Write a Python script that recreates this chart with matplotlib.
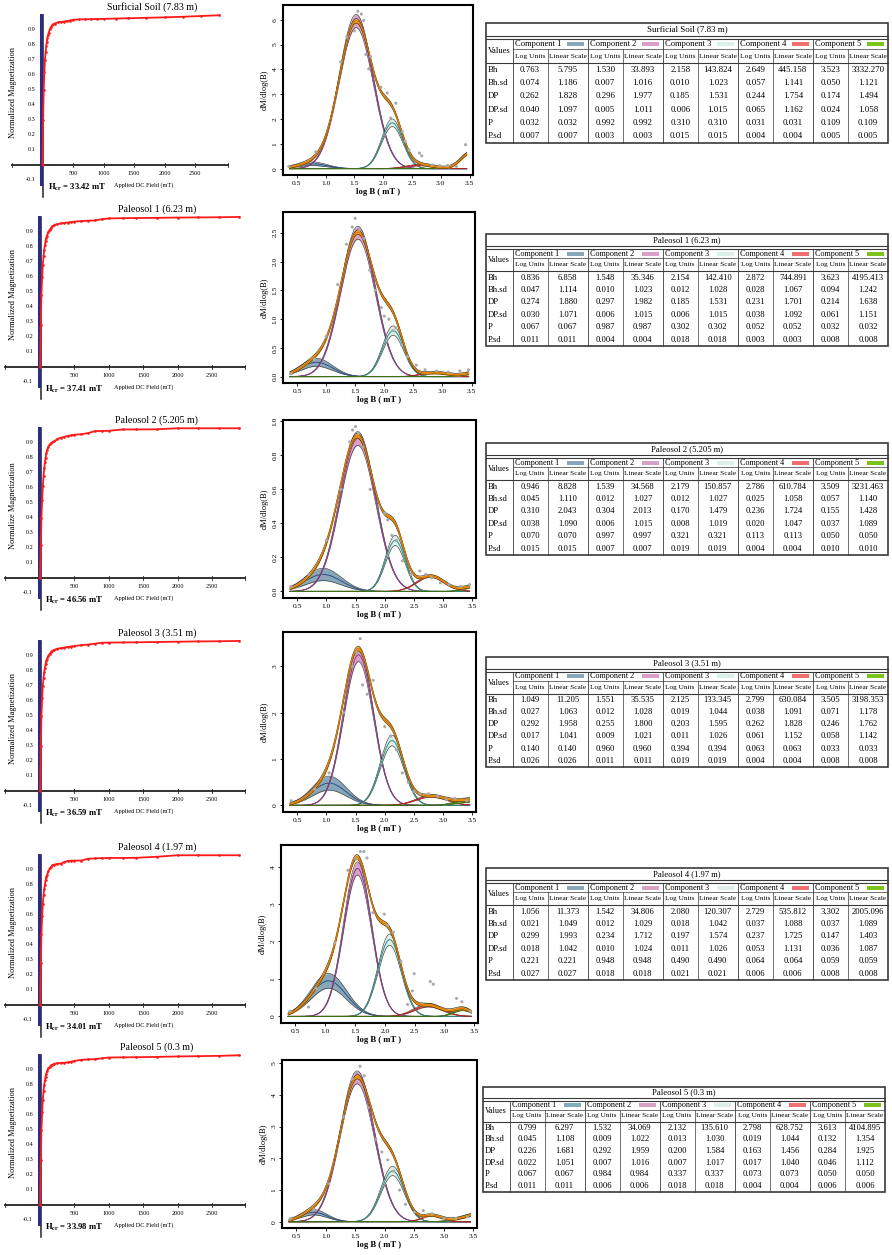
import numpy as np
import matplotlib.pyplot as plt
from matplotlib.patches import Rectangle
from matplotlib.ticker import MultipleLocator, FormatStrFormatter

plt.rcParams['font.family'] = ['Liberation Serif', 'DejaVu Serif']
plt.rcParams['mathtext.fontset'] = 'stix'

W, H = 892, 1255

SAMPLES = ["Surficial Soil (7.83 m)", "Paleosol 1 (6.23 m)", "Paleosol 2 (5.205 m)",
           "Paleosol 3 (3.51 m)", "Paleosol 4 (1.97 m)", "Paleosol 5 (0.3 m)"]
HCR = ["33.42", "37.41", "46.56", "36.59", "34.01", "33.98"]
IRM_YLABEL = ["Normalized Magnetization", "Normalized Magnetization", "Normalize Magnetization",
              "Normalized Magnetization", "Normalized Magnetization", "Normalized Magnetization"]

# IRM acquisition curves (applied field in mT, normalized magnetization)
FIELD = [0, 10, 20, 30, 40, 50, 60, 70, 80, 90, 100, 120, 140, 160, 180, 200, 250, 300, 350,
         400, 450, 500, 600, 700, 800, 900, 1000, 1200, 1400, 1700, 2000, 2300, 2600, 2900]
IRM_SOIL = [0.0, 0.30, 0.50, 0.62, 0.70, 0.75, 0.79, 0.82, 0.845, 0.865, 0.88, 0.905, 0.92, 0.93,
            0.937, 0.943, 0.950, 0.953, 0.956, 0.959, 0.963, 0.968, 0.970, 0.971, 0.972, 0.973,
            0.974, 0.976, 0.978, 0.981, 0.984, 0.988, 0.993, 0.998]
IRM_P1 = [0.0, 0.28, 0.48, 0.60, 0.68, 0.74, 0.78, 0.81, 0.84, 0.86, 0.875, 0.90, 0.915, 0.927,
          0.937, 0.944, 0.952, 0.957, 0.960, 0.963, 0.966, 0.969, 0.972, 0.975, 0.977, 0.985,
          0.990, 0.992, 0.993, 0.994, 0.996, 0.997, 0.998, 1.0]
IRM_P2 = [0.0, 0.22, 0.40, 0.52, 0.61, 0.68, 0.73, 0.77, 0.80, 0.83, 0.85, 0.875, 0.89, 0.898,
          0.904, 0.91, 0.925, 0.935, 0.94, 0.947, 0.95, 0.955, 0.958, 0.966, 0.979, 0.980,
          0.981, 0.990, 0.990, 0.991, 0.998, 0.998, 0.998, 0.998]
IRM_P3 = [0.0, 0.30, 0.50, 0.62, 0.70, 0.75, 0.79, 0.82, 0.845, 0.865, 0.88, 0.90, 0.915, 0.925,
          0.935, 0.94, 0.948, 0.952, 0.956, 0.96, 0.963, 0.966, 0.972, 0.976, 0.982, 0.988,
          0.989, 0.990, 0.991, 0.993, 0.995, 0.997, 0.998, 1.0]
IRM_P4 = [0.0, 0.28, 0.47, 0.59, 0.67, 0.73, 0.77, 0.80, 0.83, 0.85, 0.865, 0.89, 0.91, 0.92,
          0.93, 0.935, 0.94, 0.942, 0.952, 0.96, 0.962, 0.962, 0.963, 0.975, 0.977, 0.979,
          0.980, 0.980, 0.981, 0.988, 0.998, 0.998, 0.998, 0.998]
IRM_P5 = [0.0, 0.30, 0.50, 0.62, 0.70, 0.76, 0.80, 0.83, 0.855, 0.875, 0.89, 0.91, 0.92, 0.93,
          0.935, 0.94, 0.945, 0.947, 0.948, 0.950, 0.955, 0.960, 0.968, 0.970, 0.972, 0.978,
          0.983, 0.984, 0.985, 0.987, 0.990, 0.992, 0.994, 0.998]
IRM = [IRM_SOIL, IRM_P1, IRM_P2, IRM_P3, IRM_P4, IRM_P5]

# measured gradient points (log B, dM/dlog(B))
LOGB_SOIL = [0.36, 0.83, 1.26, 1.37, 1.50, 1.56, 1.62, 1.66, 1.70, 1.75, 1.78, 1.96, 2.07, 2.13,
             2.22, 2.33, 2.38, 2.45, 2.63, 2.67, 2.85, 2.98, 3.12, 3.27, 3.43]
DMDB_SOIL = [0.09, 0.68, 4.30, 5.30, 5.55, 6.34, 6.23, 5.97, 4.60, 4.02, 4.52, 3.28, 3.05, 2.04,
             2.64, 1.50, 1.10, 0.75, 0.63, 0.52, 0.15, 0.12, 0.13, 0.09, 0.97]
LOGB_P1 = [0.40, 0.80, 1.00, 1.20, 1.35, 1.45, 1.50, 1.58, 1.65, 1.75, 1.85, 1.95, 2.00, 2.08,
           2.15, 2.20, 2.30, 2.40, 2.55, 2.70, 2.90, 3.10, 3.30, 3.45]
DMDB_P1 = [0.05, 0.30, 0.70, 1.60, 2.30, 2.60, 2.75, 2.55, 2.40, 1.85, 1.50, 1.20, 1.05, 1.00,
           0.80, 0.85, 0.55, 0.35, 0.20, 0.12, 0.10, 0.08, 0.10, 0.12]
LOGB_P2 = [0.40, 0.70, 1.00, 1.25, 1.40, 1.45, 1.50, 1.55, 1.62, 1.75, 1.90, 2.00, 2.05, 2.12,
           2.20, 2.30, 2.45, 2.60, 2.70, 2.80, 2.95, 3.10, 3.30, 3.45]
DMDB_P2 = [0.03, 0.10, 0.30, 0.60, 0.88, 0.95, 0.97, 0.93, 0.85, 0.60, 0.50, 0.46, 0.42, 0.33,
           0.30, 0.18, 0.10, 0.12, 0.10, 0.08, 0.05, 0.04, 0.03, 0.04]
LOGB_P3 = [0.40, 0.80, 1.05, 1.30, 1.45, 1.52, 1.58, 1.62, 1.70, 1.80, 2.00, 2.10, 2.20, 2.30,
           2.40, 2.50, 2.60, 2.75, 2.90, 3.05, 3.20, 3.40]
DMDB_P3 = [0.10, 0.35, 0.70, 2.00, 3.00, 3.30, 3.60, 2.60, 2.40, 2.70, 1.70, 1.50, 1.20, 0.70,
           0.50, 0.30, 0.25, 0.25, 0.20, 0.12, 0.15, 0.10]
LOGB_P4 = [0.41, 0.72, 0.85, 1.16, 1.38, 1.52, 1.59, 1.65, 1.70, 1.80, 1.99, 2.05, 2.14, 2.27,
           2.38, 2.46, 2.49, 2.76, 2.81, 3.20, 3.29, 3.43]
DMDB_P4 = [0.14, 0.25, 0.75, 1.96, 3.90, 4.20, 4.40, 4.40, 4.23, 2.77, 2.73, 2.43, 2.25, 1.47,
           0.32, 0.68, 1.14, 0.93, 0.86, 0.48, 0.39, 0.14]
LOGB_P5 = [0.40, 0.80, 1.05, 1.30, 1.45, 1.52, 1.58, 1.65, 1.72, 1.85, 1.95, 2.05, 2.15, 2.25,
           2.35, 2.50, 2.65, 2.80, 3.00, 3.20, 3.40]
DMDB_P5 = [0.10, 0.40, 1.20, 3.30, 4.50, 4.70, 4.90, 4.60, 3.60, 2.60, 2.20, 1.95, 1.60, 1.00,
           0.55, 0.30, 0.35, 0.25, 0.10, 0.10, 0.15]
LOGB = [LOGB_SOIL, LOGB_P1, LOGB_P2, LOGB_P3, LOGB_P4, LOGB_P5]
DMDB = [DMDB_SOIL, DMDB_P1, DMDB_P2, DMDB_P3, DMDB_P4, DMDB_P5]

# component peak heights (components 1..5)
PEAK_SOIL = [0.20, 5.95, 1.85, 0.15, 0.65]
PEAK_P1 = [0.25, 2.50, 0.80, 0.07, 0.08]
PEAK_P2 = [0.10, 0.90, 0.30, 0.09, 0.03]
PEAK_P3 = [0.48, 3.25, 1.40, 0.20, 0.12]
PEAK_P4 = [0.95, 3.95, 2.05, 0.30, 0.20]
PEAK_P5 = [0.30, 4.55, 1.60, 0.20, 0.25]
PEAKS = [PEAK_SOIL, PEAK_P1, PEAK_P2, PEAK_P3, PEAK_P4, PEAK_P5]

# unmixing tables: rows Bh, Bh.sd, DP, DP.sd, P, P.sd ; columns (log, linear) x 5 components
ROW_NAMES = ["Bh", "Bh.sd", "DP", "DP.sd", "P", "P.sd"]
TAB_SOIL = [
    [0.763, 5.795, 1.530, 33.893, 2.158, 143.824, 2.649, 445.158, 3.523, 3332.270],
    [0.074, 1.186, 0.007, 1.016, 0.010, 1.023, 0.057, 1.141, 0.050, 1.121],
    [0.262, 1.828, 0.296, 1.977, 0.185, 1.531, 0.244, 1.754, 0.174, 1.494],
    [0.040, 1.097, 0.005, 1.011, 0.006, 1.015, 0.065, 1.162, 0.024, 1.058],
    [0.032, 0.032, 0.992, 0.992, 0.310, 0.310, 0.031, 0.031, 0.109, 0.109],
    [0.007, 0.007, 0.003, 0.003, 0.015, 0.015, 0.004, 0.004, 0.005, 0.005]]
TAB_P1 = [
    [0.836, 6.858, 1.548, 35.346, 2.154, 142.410, 2.872, 744.891, 3.623, 4195.413],
    [0.047, 1.114, 0.010, 1.023, 0.012, 1.028, 0.028, 1.067, 0.094, 1.242],
    [0.274, 1.880, 0.297, 1.982, 0.185, 1.531, 0.231, 1.701, 0.214, 1.638],
    [0.030, 1.071, 0.006, 1.015, 0.006, 1.015, 0.038, 1.092, 0.061, 1.151],
    [0.067, 0.067, 0.987, 0.987, 0.302, 0.302, 0.052, 0.052, 0.032, 0.032],
    [0.011, 0.011, 0.004, 0.004, 0.018, 0.018, 0.003, 0.003, 0.008, 0.008]]
TAB_P2 = [
    [0.946, 8.828, 1.539, 34.568, 2.179, 150.857, 2.786, 610.784, 3.509, 3231.463],
    [0.045, 1.110, 0.012, 1.027, 0.012, 1.027, 0.025, 1.058, 0.057, 1.140],
    [0.310, 2.043, 0.304, 2.013, 0.170, 1.479, 0.236, 1.724, 0.155, 1.428],
    [0.038, 1.090, 0.006, 1.015, 0.008, 1.019, 0.020, 1.047, 0.037, 1.089],
    [0.070, 0.070, 0.997, 0.997, 0.321, 0.321, 0.113, 0.113, 0.050, 0.050],
    [0.015, 0.015, 0.007, 0.007, 0.019, 0.019, 0.004, 0.004, 0.010, 0.010]]
TAB_P3 = [
    [1.049, 11.205, 1.551, 35.535, 2.125, 133.345, 2.799, 630.084, 3.505, 3198.353],
    [0.027, 1.063, 0.012, 1.028, 0.019, 1.044, 0.038, 1.091, 0.071, 1.178],
    [0.292, 1.958, 0.255, 1.800, 0.203, 1.595, 0.262, 1.828, 0.246, 1.762],
    [0.017, 1.041, 0.009, 1.021, 0.011, 1.026, 0.061, 1.152, 0.058, 1.142],
    [0.140, 0.140, 0.960, 0.960, 0.394, 0.394, 0.063, 0.063, 0.033, 0.033],
    [0.026, 0.026, 0.011, 0.011, 0.019, 0.019, 0.004, 0.004, 0.008, 0.008]]
TAB_P4 = [
    [1.056, 11.373, 1.542, 34.806, 2.080, 120.307, 2.729, 535.812, 3.302, 2005.096],
    [0.021, 1.049, 0.012, 1.029, 0.018, 1.042, 0.037, 1.088, 0.037, 1.089],
    [0.299, 1.993, 0.234, 1.712, 0.197, 1.574, 0.237, 1.725, 0.147, 1.403],
    [0.018, 1.042, 0.010, 1.024, 0.011, 1.026, 0.053, 1.131, 0.036, 1.087],
    [0.221, 0.221, 0.948, 0.948, 0.490, 0.490, 0.064, 0.064, 0.059, 0.059],
    [0.027, 0.027, 0.018, 0.018, 0.021, 0.021, 0.006, 0.006, 0.008, 0.008]]
TAB_P5 = [
    [0.799, 6.297, 1.532, 34.069, 2.132, 135.610, 2.798, 628.752, 3.613, 4104.895],
    [0.045, 1.108, 0.009, 1.022, 0.013, 1.030, 0.019, 1.044, 0.132, 1.354],
    [0.226, 1.681, 0.292, 1.959, 0.200, 1.584, 0.163, 1.456, 0.284, 1.925],
    [0.022, 1.051, 0.007, 1.016, 0.007, 1.017, 0.017, 1.040, 0.046, 1.112],
    [0.067, 0.067, 0.984, 0.984, 0.337, 0.337, 0.073, 0.073, 0.050, 0.050],
    [0.011, 0.011, 0.006, 0.006, 0.018, 0.018, 0.004, 0.004, 0.006, 0.006]]
TABLES = [TAB_SOIL, TAB_P1, TAB_P2, TAB_P3, TAB_P4, TAB_P5]

# layout (pixels)
IRM_TOP = [15, 217, 428, 641, 855, 1055]
MID_BOX = [(283, 5, 473, 175), (283, 212, 475, 383), (283, 420, 476, 598),
           (283, 632, 476, 812), (281, 845, 478, 1023), (282, 1060, 477, 1228)]
TAB_BOX = [(486, 23, 888, 143), (486, 234, 888, 346), (486, 443, 888, 555),
           (486, 657, 888, 767), (486, 868, 888, 980), (483, 1087, 885, 1192)]
Y_STEP = [1, 0.5, 0.2, 1, 1, 1]

COMP_FILL = ['#87a8b8', '#d9a0c8', '#dcefe9', '#f07070', '#7cc41c']
COMP_LINE = ['#2e4f8a', '#8b3a8b', '#2f8f80', '#c02020', '#3a7a10']


def px_axes(fig, x0, y0, x1, y1):
    return fig.add_axes([x0 / W, 1 - y1 / H, (x1 - x0) / W, (y1 - y0) / H])


def irm_panel(fig, i):
    y1 = IRM_TOP[i]
    if i == 0:
        x0, x1, xlim = 12, 228, (-500, 3040)
    else:
        x0, x1, xlim = 5, 245, (-510, 2980)
    ax = px_axes(fig, x0, y1 - 5, x1, y1 + 186)
    ax.set_xlim(xlim)
    ax.set_ylim(-0.24, 1.033)
    ax.axis('off')

    ax.plot(xlim, [0, 0], color='#222222', lw=1.3, clip_on=False)
    for t in [xlim[0], 500, 1000, 1500, 2000, 2500, xlim[1]]:
        ax.plot([t, t], [-0.012, 0.014], color='#222222', lw=0.6, clip_on=False)
    for t in [500, 1000, 1500, 2000, 2500]:
        ax.text(t, -0.04, str(t), ha='center', va='top', fontsize=4.4)

    ax.plot([15, 15], [1.0, -0.215], color='#222222', lw=1.1)
    ax.plot([-22, -22], [1.0, -0.13], color='#2b2b88', lw=2.2)
    ax.plot(FIELD, IRM[i], color='#ff1a1a', lw=1.3, marker='.', ms=1.8)

    for v in [-0.1, 0.1, 0.2, 0.3, 0.4, 0.5, 0.6, 0.7, 0.8, 0.9]:
        ax.annotate(f"{v:.1f}", xy=(-22, v), xytext=(-4, 0), textcoords='offset points',
                    ha='right', va='center', fontsize=4.4)

    ax.annotate(r"$\mathbf{H_{cr}}$" + f" = {HCR[i]} mT", xy=(15, -0.147), xytext=(3, 0),
                textcoords='offset points', ha='left', va='center', fontsize=6.2,
                fontweight='bold')
    ax.text(1650 if i == 0 else 1500, -0.135, "Applied DC Field (mT)", ha='center',
            va='center', fontsize=4.5)
    ax.text(1800 if i == 0 else 1700, 1.05, SAMPLES[i], ha='center', va='center',
            fontsize=7.2, clip_on=False)
    fig.text(13 / W, 1 - (y1 + 78) / H, IRM_YLABEL[i], rotation=90, ha='center',
             va='center', fontsize=6)


def mid_panel(fig, i):
    x0, y0, x1, y1 = MID_BOX[i]
    ax = px_axes(fig, x0, y0, x1, y1)
    tab = TABLES[i]
    xs = np.linspace(0.38, 3.45, 400)
    curves, lows, highs = [], [], []
    for k in range(5):
        bh, dp = tab[0][2 * k], tab[2][2 * k]
        p, psd = tab[4][2 * k], tab[5][2 * k]
        y = PEAKS[i][k] * np.exp(-0.5 * ((xs - bh) / dp) ** 2)
        frac = max(1.7 * psd / p, 0.045)
        curves.append(y)
        lows.append(y * (1 - frac))
        highs.append(y * (1 + frac))
    for k in range(5):
        ax.fill_between(xs, lows[k], highs[k], color=COMP_FILL[k], lw=0, zorder=2 + k)
        ax.plot(xs, lows[k], color='#3a3a3a', lw=0.45, zorder=2 + k)
        ax.plot(xs, highs[k], color='#3a3a3a', lw=0.45, zorder=2 + k)
        ax.plot(xs, curves[k], color=COMP_LINE[k], lw=0.7, zorder=2 + k)

    total = np.sum(curves, axis=0)
    spread = np.sqrt(np.sum([(h - c) ** 2 for h, c in zip(highs, curves)], axis=0))
    half = 0.15 * spread + 0.008 * max(DMDB[i])
    ax.fill_between(xs, total - half, total + half, color='#f5a31f', lw=0, zorder=8)
    ax.plot(xs, total - half, color='#3a2a10', lw=0.45, zorder=8)
    ax.plot(xs, total + half, color='#3a2a10', lw=0.45, zorder=8)
    ax.plot(xs, total, color='#e07a00', lw=0.8, zorder=8)

    ax.scatter(LOGB[i], DMDB[i], s=5, color='#a9a9a9', edgecolors='none', zorder=9)

    top = max(DMDB[i])
    ax.set_ylim(-0.04 * top, 1.04 * top)
    ax.set_xlim(0.26, 3.56)
    ax.xaxis.set_major_locator(MultipleLocator(0.5))
    ax.xaxis.set_major_formatter(FormatStrFormatter('%.1f'))
    ax.yaxis.set_major_locator(MultipleLocator(Y_STEP[i]))
    if Y_STEP[i] < 1:
        ax.yaxis.set_major_formatter(FormatStrFormatter('%.1f'))
    else:
        ax.yaxis.set_major_formatter(FormatStrFormatter('%d'))
    ax.tick_params(labelsize=5.4, length=2.5, width=0.6, pad=1.5)
    ax.tick_params(axis='y', labelrotation=90)
    for lab in ax.get_yticklabels():
        lab.set_va('center')
    for s in ax.spines.values():
        s.set_linewidth(1.5)
    ax.set_xlabel("log B ( mT )", fontsize=6.2, fontweight='bold', labelpad=2)
    ax.set_ylabel("dM/dlog(B)", fontsize=6, labelpad=3)


def draw_table(tax, i):
    x0, y0, x1, y1 = TAB_BOX[i]
    h, w = y1 - y0, x1 - x0
    yt = y0 + 0.108 * h
    yc = yt + 0.025 * h
    ys = yc + 0.085 * h
    yd = ys + 0.115 * h
    rh = (y1 - yd) / 6
    vx = x0 + 0.066 * w
    pw = (x1 - vx) / 5
    lc = '#3a3a3a'
    fs = 6.4 if i == 0 else 6.2

    tax.add_patch(Rectangle((x0, y0), w, h, fill=False, ec=lc, lw=1.2))
    tax.plot([x0, x1], [yt, yt], color=lc, lw=0.8)
    tax.plot([x0, x1], [yc, yc], color=lc, lw=0.8)
    tax.plot([vx, x1], [ys, ys], color=lc, lw=0.5)
    tax.plot([x0, x1], [yd, yd], color=lc, lw=0.8)
    tax.plot([vx, vx], [yc, y1], color=lc, lw=0.6)
    for k in range(5):
        cx = vx + k * pw
        sx = cx + 0.466 * pw
        if k > 0:
            tax.plot([cx, cx], [yc, y1], color=lc, lw=0.6)
        tax.plot([sx, sx], [ys, y1], color=lc, lw=0.5)
        tax.text(cx + 2, (yc + ys) / 2, f"Component {k + 1}", ha='left', va='center',
                 fontsize=fs - 0.3)
        tax.add_patch(Rectangle((cx + pw - 21, (yc + ys) / 2 - 2), 17, 4,
                                color=COMP_FILL[k], lw=0))
        tax.text((cx + sx) / 2, (ys + yd) / 2, "Log Units", ha='center', va='center',
                 fontsize=fs - 1.0)
        tax.text((sx + cx + pw) / 2, (ys + yd) / 2, "Linear Scale", ha='center',
                 va='center', fontsize=fs - 1.0)
        for r in range(6):
            yy = yd + (r + 0.5) * rh
            tax.text((cx + sx) / 2, yy, f"{TABLES[i][r][2 * k]:.3f}", ha='center',
                     va='center', fontsize=fs)
            tax.text((sx + cx + pw) / 2, yy, f"{TABLES[i][r][2 * k + 1]:.3f}",
                     ha='center', va='center', fontsize=fs)
    for r in range(6):
        tax.text(x0 + 2, yd + (r + 0.5) * rh, ROW_NAMES[r], ha='left', va='center',
                 fontsize=fs)
    tax.text(x0 + 2, (yc + yd) / 2, "Values", ha='left', va='center', fontsize=fs - 0.3)
    tax.text((x0 + x1) / 2, (y0 + yt) / 2, SAMPLES[i], ha='center', va='center',
             fontsize=fs)


def main():
    fig = plt.figure(figsize=(W / 100, H / 100), dpi=100)
    tax = fig.add_axes([0, 0, 1, 1])
    tax.set_xlim(0, W)
    tax.set_ylim(H, 0)
    tax.axis('off')
    for i in range(6):
        irm_panel(fig, i)
        mid_panel(fig, i)
        draw_table(tax, i)
    fig.savefig("out.png", dpi=100)


if __name__ == "__main__":
    main()
